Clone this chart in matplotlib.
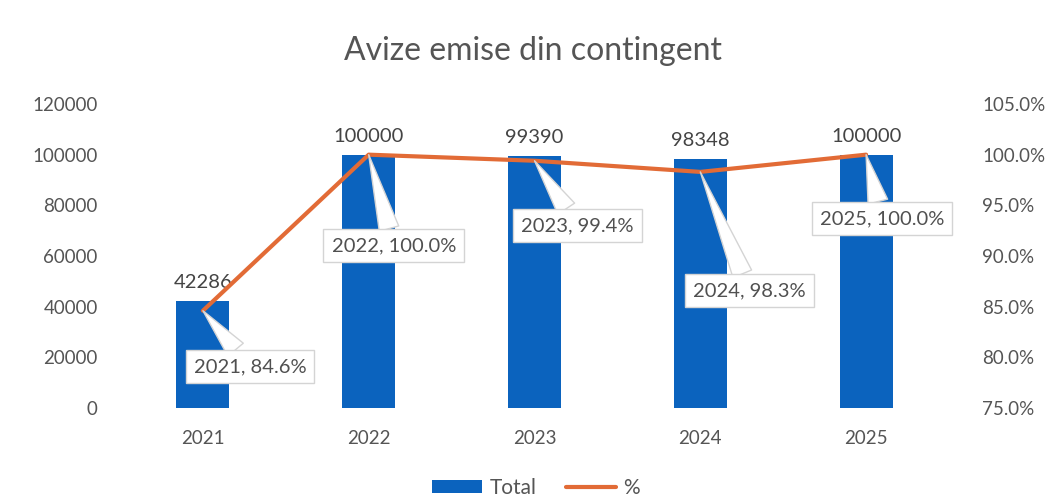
import matplotlib
matplotlib.use("Agg")
import matplotlib.pyplot as plt
from matplotlib.ticker import FuncFormatter

years = ["2021", "2022", "2023", "2024", "2025"]
totals = [42286, 100000, 99390, 98348, 100000]
percents = [84.6, 100.0, 99.4, 98.3, 100.0]
title = "Avize emise din contingent"

BLUE = "#0B63BE"
ORANGE = "#E26B36"
GREY = "#555555"
FONT = ["Lato", "DejaVu Sans"]

plt.rcParams["font.family"] = FONT

fig = plt.figure(figsize=(10.51, 4.99), dpi=100)
fig.patch.set_facecolor("white")
ax = fig.add_axes([120 / 1051, 91 / 499, 829 / 1051, 304 / 499])
ax2 = ax.twinx()

x = list(range(len(years)))
bars = ax.bar(x, totals, width=0.32, color=BLUE, zorder=1, label="Total")
ax.set_xlim(-0.5, len(years) - 0.5)
ax.set_ylim(0, 120000)
ax.set_yticks(range(0, 120001, 20000))
ax.set_xticks(x)
ax.set_xticklabels(years)
ax.bar_label(bars, labels=[str(v) for v in totals], padding=7, fontsize=14.5, color="#444444")

line, = ax2.plot(x, percents, color=ORANGE, lw=3, zorder=3, label="%",
                 solid_capstyle="round")
ax2.set_ylim(75, 105)
ax2.set_yticks([75, 80, 85, 90, 95, 100, 105])
ax2.yaxis.set_major_formatter(FuncFormatter(lambda v, p: f"{v:.1f}%"))

for a in (ax, ax2):
    for s in a.spines.values():
        s.set_visible(False)
    a.tick_params(length=0, labelsize=13.5, labelcolor=GREY)
ax.tick_params(axis="y", pad=16)
ax2.tick_params(axis="y", pad=24)
ax.tick_params(axis="x", pad=16)
ax2.set_zorder(ax.get_zorder() + 1)
ax2.patch.set_visible(False)

# callout offsets (pixels) for the % labels
offsets = [(47, -56), (25, -91), (43, -65), (49, -119), (16, -64)]
for i, (yr, p) in enumerate(zip(years, percents)):
    ax2.annotate(f"{yr}, {p:.1f}%", xy=(i, p), xytext=offsets[i],
                 textcoords="offset pixels", ha="center", va="center",
                 fontsize=14.5, color="#505050", zorder=5,
                 bbox=dict(boxstyle="square,pad=0.4", fc="white", ec="#D4D4D4", lw=1),
                 arrowprops=dict(arrowstyle="wedge,tail_width=1.0", fc="white",
                                 ec="#D4D4D4", lw=1, shrinkA=0, shrinkB=0))

fig.text(0.507, 0.897, title, ha="center", va="center", fontsize=23, color=GREY)

fig.legend(handles=[bars, line], labels=["Total", "%"], loc="lower center",
           bbox_to_anchor=(0.51, -0.035), ncol=2, frameon=False, fontsize=15,
           handlelength=2.4, handleheight=0.6, columnspacing=1.4, handletextpad=0.35,
           labelcolor=GREY)

fig.savefig("out.png", dpi=100, facecolor="white")
